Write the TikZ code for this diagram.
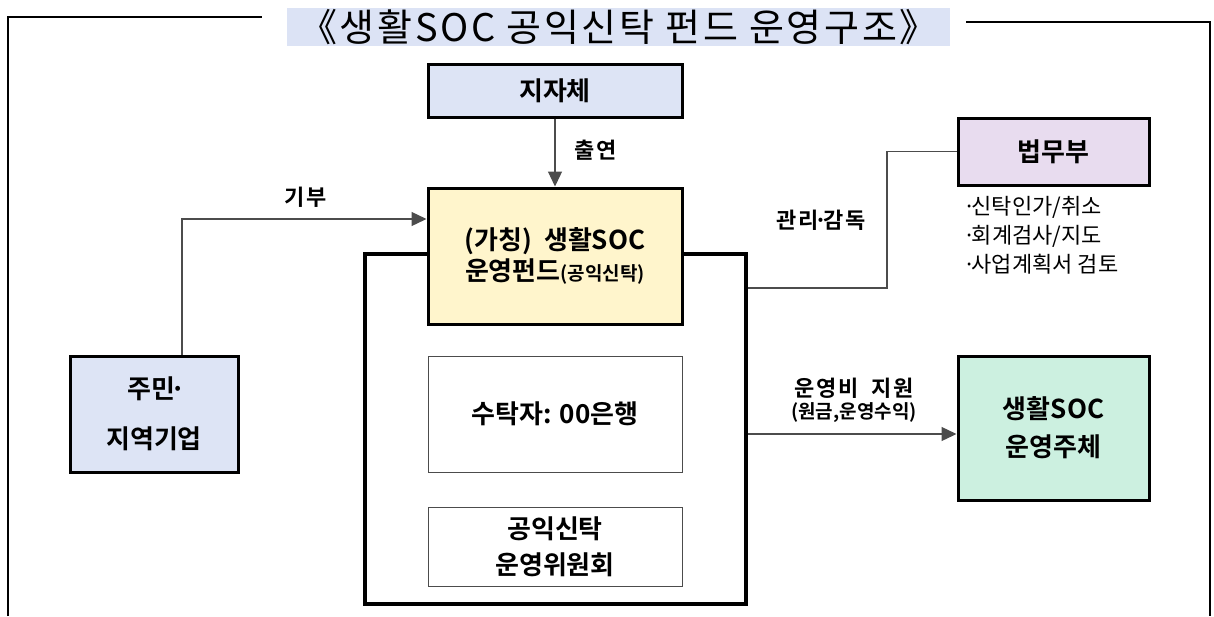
\documentclass[tikz,border=0pt]{standalone}
\usepackage{fontspec}
\setmainfont{Noto Sans CJK KR}[BoldFont={Noto Sans CJK KR Bold}]
\usetikzlibrary{arrows.meta}

\definecolor{titlebg}{HTML}{DCE3F5}
\definecolor{govblue}{HTML}{DDE4F5}
\definecolor{fundyellow}{HTML}{FFF5CC}
\definecolor{mojviolet}{HTML}{E8DCEF}
\definecolor{opgreen}{HTML}{CCF0E0}

\newcommand{\mdot}{\kern-0.2em·\kern-0.2em}

\tikzset{
  box/.style={draw=black,line width=3pt,align=center,
    font=\bfseries\fontsize{26}{36}\selectfont},
  inbox/.style={draw=black!70,line width=1pt,fill=white,align=center,
    font=\bfseries\fontsize{26}{36}\selectfont},
  lbl/.style={font=\bfseries\fontsize{22}{26}\selectfont\addfontfeature{LetterSpace=8}},
  conn/.style={draw=black!70,line width=1.3pt},
  arrow/.style={conn,-{Triangle[length=15pt,width=14pt]}}
}

\begin{document}
\begin{tikzpicture}[x=1pt,y=-1pt]
        \useasboundingbox (0,0) rectangle (1214,616);

        % title and outer frame
        \node[fill=titlebg,minimum width=663,minimum height=38,inner sep=0pt,
              font=\fontsize{38}{38}\selectfont\addfontfeature{LetterSpace=7}] (title) at (618.5,27)
              {《생활SOC 공익신탁 펀드 운영구조》};
        \draw[line width=1.2pt] (8,616) -- (8,17) -- (262,17);
        \draw[line width=1.2pt] (966,22) -- (1210,22) -- (1210,616);

        % fund frame and boxes
        \node[draw,line width=3.5pt,minimum width=381,minimum height=350] (frame) at (555.5,429) {};

        \node[box,fill=govblue,minimum width=254,minimum height=53] (jijache) at (555,90.5) {지자체};
        \node[box,fill=fundyellow,minimum width=254,minimum height=136,
              font=\bfseries\fontsize{26}{31}\selectfont] (fund) at (555,256)
             {(가칭)~ 생활SOC\\운영펀드{\fontsize{19}{20}\selectfont(공익신탁)}};
        \node[inbox,minimum width=254,minimum height=116] (trustee) at (555,414) {수탁자: 00은행};
        \node[inbox,minimum width=254,minimum height=79] (committee) at (555,546.5) {공익신탁\\운영위원회};

        \node[box,fill=govblue,minimum width=168,minimum height=116,
              font=\bfseries\fontsize{26}{50}\selectfont] (jumin) at (154,414) {주민\mdot\\지역기업};
        \node[box,fill=mojviolet,minimum width=191,minimum height=67] (moj) at (1053.5,151.5) {법무부};
        \node[box,fill=opgreen,minimum width=191,minimum height=144,
              font=\bfseries\fontsize{26}{38}\selectfont] (operator) at (1053.5,428) {생활SOC\\운영주체};

        \node[align=left,anchor=north west,inner sep=0pt,font=\fontsize{22}{29}\selectfont] (duties) at (968,196)
             {\mdot 신탁인가/취소\\\mdot 회계검사/지도\\\mdot 사업계획서 검토};

        % connectors
        \draw[arrow] (jijache) -- (fund);
        \node[lbl] (contrib) at (596,150) {출연};

        \coordinate (donate) at (182,219);
        \draw[arrow] (donate |- jumin.north) -- (donate) -- (donate -| fund.west);
        \node[lbl] (donatelbl) at (306,197) {기부};

        \coordinate (superv) at (887,288);
        \draw[conn] (superv -| frame.east) -- (superv) |- (moj.west);
        \node[lbl] (supervlbl) at (821,220) {관리\mdot 감독};

        \coordinate (support) at (850,434);
        \draw[arrow] (support -| frame.east) -- (support -| operator.west);
        \node[lbl] (supportlbl) at (854,388) {운영비~ 지원};
        \node[font=\bfseries\fontsize{19}{20}\selectfont] (principal) at (854,413) {(원금,운영수익)};
\end{tikzpicture}
\end{document}
